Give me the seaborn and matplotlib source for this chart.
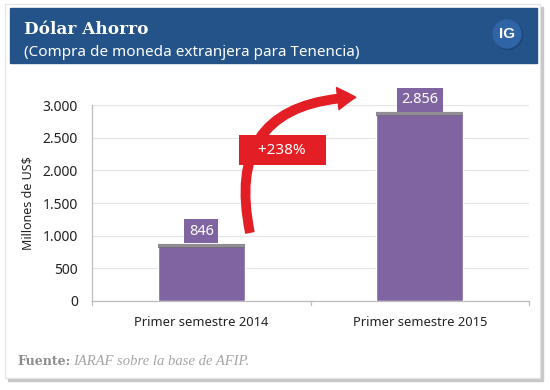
import matplotlib
matplotlib.use('Agg')
import matplotlib.pyplot as plt
import matplotlib.patches as mpatches
import seaborn as sns
import pandas as pd

# datos
periodos = ['Primer semestre 2014', 'Primer semestre 2015']
millones = [846, 2856]
etiquetas = ['846', '2.856']
variacion = '+238%'
ticks_y = [0, 500, 1000, 1500, 2000, 2500, 3000]
ticks_y_txt = ['0', '500', '1.000', '1.500', '2.000', '2.500', '3.000']

sns.set_style('white')
plt.rcParams['font.family'] = ['Noto Sans', 'DejaVu Sans']

W, H = 550, 390
fig = plt.figure(figsize=(5.5, 3.9), dpi=100)
fig.patch.set_facecolor('white')

def fx(px):
    return px / W

def fy(py):
    return 1 - py / H

# tarjeta con sombra
fig.patches.append(mpatches.Rectangle((fx(8), fy(381)), fx(535), 374 / H,
                                      transform=fig.transFigure, color='#c8c8c8', zorder=0))
fig.patches.append(mpatches.Rectangle((fx(5), fy(378)), fx(535), 374 / H,
                                      transform=fig.transFigure, facecolor='white',
                                      edgecolor='#e2e2e2', lw=0.8, zorder=0))
# cabecera azul
fig.patches.append(mpatches.Rectangle((fx(10), fy(63)), fx(527), 55 / H,
                                      transform=fig.transFigure, color='#245389', zorder=1))
fig.patches.append(mpatches.Ellipse((fx(508), fy(35)), fx(29), 29 / H,
                                    transform=fig.transFigure, color='#1b4577', zorder=1))
fig.patches.append(mpatches.Ellipse((fx(507), fy(34)), fx(28), 28 / H,
                                    transform=fig.transFigure, color='#2f64a6', zorder=1))
fig.text(fx(507), fy(34), 'IG', color='white', fontsize=11, fontweight='bold',
         family='Liberation Sans', ha='center', va='center', zorder=2)
fig.text(fx(24), fy(34), 'Dólar Ahorro', color='white', fontsize=12.2, fontweight='bold',
         family='DejaVu Serif', ha='left', va='baseline', zorder=2)
fig.text(fx(24), fy(56), '(Compra de moneda extranjera para Tenencia)', color='white',
         fontsize=11, ha='left', va='baseline', zorder=2)

# grafico
ax = fig.add_axes([fx(92), fy(301), fx(529 - 92), 196 / H])
ax.set_zorder(3)
ax.set_facecolor('none')
df = pd.DataFrame({'periodo': periodos, 'millones': millones})
sns.barplot(data=df, x='periodo', y='millones', color='#8064A2', width=0.4,
            saturation=1, ax=ax, zorder=3)

ax.set_ylim(0, 3000)
ax.set_xlim(-0.5, 1.5)
ax.set_yticks(ticks_y)
ax.set_yticklabels(ticks_y_txt, fontsize=10, color='#222222')
ax.set_xticks([0, 1])
ax.set_xticklabels(periodos, fontsize=9.3, color='#222222')
ax.set_xlabel('')
ax.set_ylabel('Millones de US$', fontsize=9, color='#222222', labelpad=6)
ax.grid(axis='y', color='#e4e4e4', lw=0.9, zorder=0)
ax.set_axisbelow(True)
for s in ['top', 'right']:
    ax.spines[s].set_visible(False)
for s in ['left', 'bottom']:
    ax.spines[s].set_color('#bdbdbd')
    ax.spines[s].set_linewidth(0.9)
ax.tick_params(axis='y', length=4, color='#bdbdbd', pad=6)
ax.tick_params(axis='x', length=0, pad=11)
for xb in [-0.5, 0.5, 1.5]:
    ax.plot([xb, xb], [0, -0.02], transform=ax.get_xaxis_transform(),
            color='#bdbdbd', lw=0.9, clip_on=False)

# sombra superior de cada barra y etiquetas
for i, p in enumerate(ax.patches):
    top = p.get_height()
    ax.plot([p.get_x(), p.get_x() + p.get_width()], [top, top], color='#6d6470',
            lw=3, alpha=0.75, zorder=4, solid_capstyle='butt')
    ax.annotate(etiquetas[i], (p.get_x() + p.get_width() / 2, top), xytext=(0, 5),
                textcoords='offset points', ha='center', va='bottom', color='white',
                fontsize=10.5, zorder=6,
                bbox=dict(boxstyle='square,pad=0.3', fc='#8064A2', ec='none'))

# flecha roja
arrow = mpatches.FancyArrowPatch((0.225, 1010), (0.72, 3120),
                                 connectionstyle='arc3,rad=-0.6',
                                 arrowstyle='simple,head_length=13,head_width=16,tail_width=6',
                                 color='#e31e24', zorder=5, clip_on=False)
ax.add_patch(arrow)
ax.text(0.37, 2310, '   ' + variacion + '   ', ha='center', va='center', color='white',
        fontsize=11, zorder=6,
        bbox=dict(boxstyle='square,pad=0.5', fc='#e31e24', ec='none'))

# fuente
fig.text(fx(17), fy(365), 'Fuente:', color='#8c8c8c', fontsize=9, fontweight='bold',
         family='DejaVu Serif', va='baseline', zorder=2)
fig.text(fx(73), fy(365), 'IARAF sobre la base de AFIP.', color='#a5a5a5', fontsize=10.5,
         style='italic', family='Liberation Serif', va='baseline', zorder=2)

fig.savefig('out.png', dpi=100)
